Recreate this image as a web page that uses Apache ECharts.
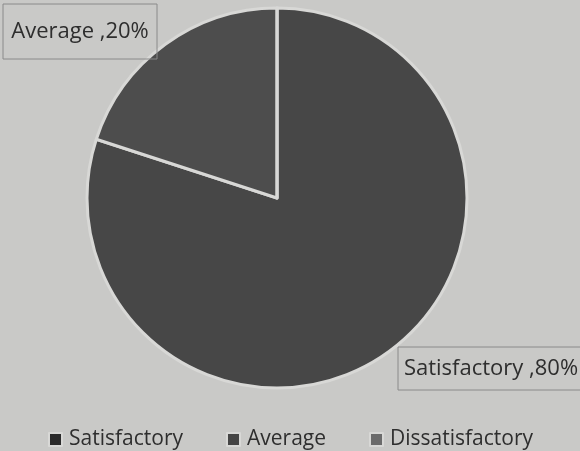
<!DOCTYPE html>
<html><head><meta charset="utf-8">
<script src="https://cdn.jsdelivr.net/npm/echarts@6/dist/echarts.min.js"></script>
<style>html,body{margin:0;padding:0;background:#c9c9c7;}#c{width:580px;height:451px;}</style>
</head><body><div id="c"></div>
<script>
var categories = ['Satisfactory', 'Average', 'Dissatisfactory'];
var values = [80, 20, 0];
var colors = ['#474747', '#4d4d4d', '#6a6a6a'];
var legendColors = ['#2b2b2b', '#454545', '#6b6b6b'];
var labelBoxes = [{x: 398, y: 347, w: 186, h: 43, pt: 0}, {x: 3, y: 8, w: 154, h: 47, pt: 8}];

var chart = echarts.init(document.getElementById('c'));
chart.setOption({
  backgroundColor: '#c9c9c7',
  animation: false,
  legend: {
    top: 424, left: 43,
    itemWidth: 13, itemHeight: 13, itemGap: 43,
    icon: 'rect',
    textStyle: {fontFamily: 'Open Sans', fontSize: 21, color: '#2e2e2e', padding: [0, 0, 0, 2]},
    data: categories.map(function (c, i) { return {name: c, itemStyle: {color: legendColors[i]}}; })
  },
  series: [{
    type: 'pie',
    center: [277, 198],
    radius: [0, 190],
    startAngle: 90,
    clockwise: true,
    itemStyle: {borderColor: '#d8d8d6', borderWidth: 3},
    label: {
      show: true,
      overflow: 'none',
      formatter: function (p) { return p.name + ' ,' + p.value + '%'; },
      fontFamily: 'Open Sans', fontSize: 22, color: '#2e2e2e',
      borderColor: '#8a8a8a', borderWidth: 1,
      align: 'center', verticalAlign: 'middle',
      padding: 0
    },
    labelLine: {show: false},
    labelLayout: function (p) {
      var b = labelBoxes[p.dataIndex];
      if (!b) return {};
      return {x: b.x + b.w / 2, y: b.y + b.h / 2, width: b.w, height: b.h, align: 'center', verticalAlign: 'middle'};
    },
    data: categories.map(function (c, i) {
      var d = {name: c, value: values[i], itemStyle: {color: colors[i]}};
      if (values[i] === 0) d.label = {show: false};
      else if (labelBoxes[i].pt) d.label = {padding: [labelBoxes[i].pt, 0, 0, 0]};
      return d;
    })
  }]
});
</script></body></html>
